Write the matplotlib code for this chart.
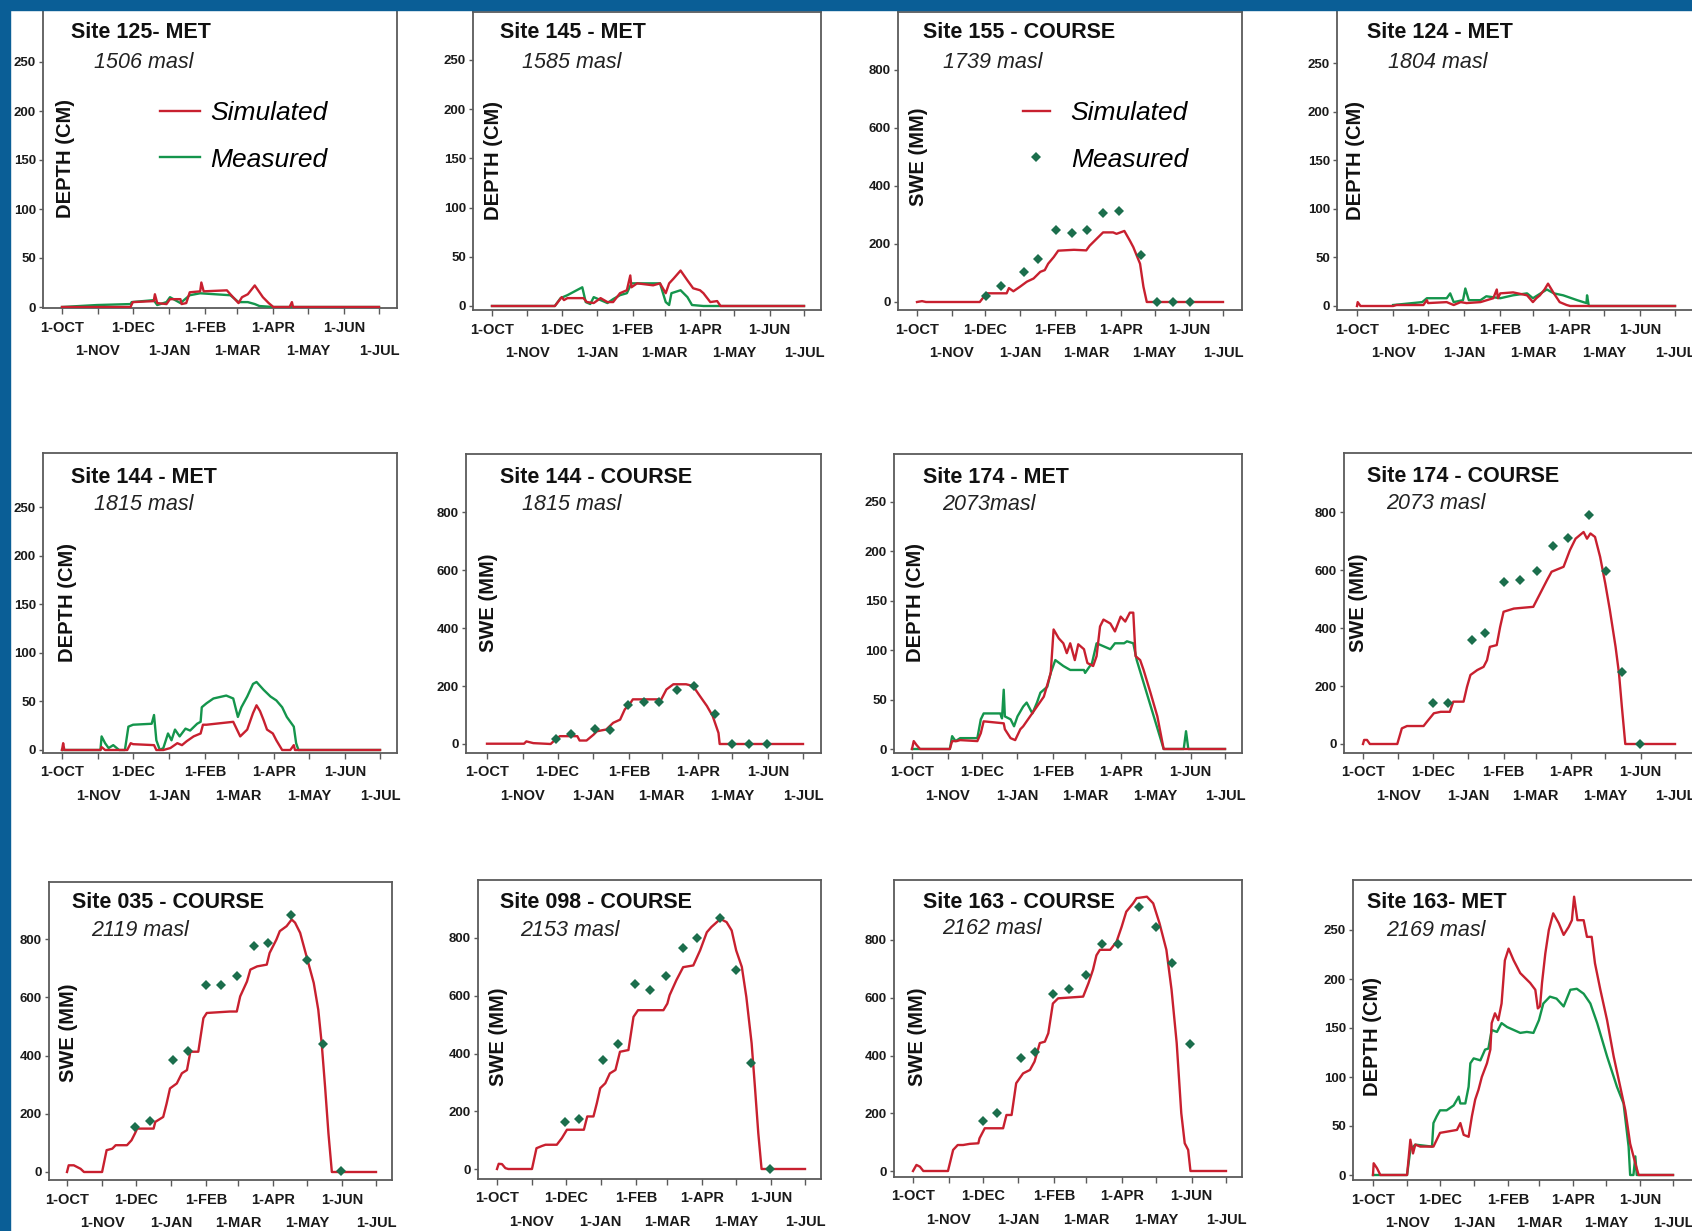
import matplotlib
matplotlib.use("Agg")
import matplotlib.pyplot as plt
from matplotlib.lines import Line2D

plt.rcParams['font.family'] = ['Liberation Sans', 'DejaVu Sans']

W, H = 1692, 1231

# first of each month, in days counted from 1 October
month_days = [0, 31, 61, 92, 123, 151, 182, 212, 243, 273]
month_names = ['1-OCT', '1-NOV', '1-DEC', '1-JAN', '1-FEB',
               '1-MAR', '1-APR', '1-MAY', '1-JUN', '1-JUL']

depth_ticks = [0, 50, 100, 150, 200, 250]
swe_ticks = [0, 200, 400, 600, 800]

# ---- Site 125 - MET (snow depth, cm)
s125_sim_t = [0, 59, 61, 79, 80, 82, 90, 93, 102, 103, 107, 110, 119, 120, 122, 142, 145,
              152, 155, 160, 166, 173, 178, 182, 196, 198, 199, 273]
s125_sim_v = [0, 0, 5, 6, 13, 4, 3, 8, 8, 3, 4, 15, 16, 25, 16, 17, 13,
              4, 10, 13, 22, 10, 4, 0, 0, 5, 0, 0]
s125_obs_t = [0, 30, 59, 60, 79, 82, 90, 93, 102, 110, 119, 145, 152, 160, 166, 170, 182, 273]
s125_obs_v = [0, 2, 3, 5, 7, 2, 5, 10, 4, 12, 14, 12, 5, 5, 3, 1, 0, 0]

# ---- Site 145 - MET
s145_sim_t = [0, 55, 57, 61, 63, 66, 80, 83, 89, 95, 101, 106, 112, 118, 121, 122, 127, 141,
              147, 152, 155, 159, 165, 171, 176, 182, 185, 191, 197, 200, 273]
s145_sim_v = [0, 0, 3, 9, 6, 8, 8, 4, 3, 8, 4, 4, 13, 16, 31, 19, 23, 21,
              23, 13, 23, 28, 36, 26, 18, 16, 13, 4, 5, 0, 0]
s145_obs_t = [0, 55, 60, 66, 79, 82, 86, 89, 95, 101, 106, 112, 118, 122, 147, 152, 155, 157,
              165, 171, 175, 185, 273]
s145_obs_v = [0, 0, 8, 11, 19, 4, 2, 9, 6, 3, 7, 11, 13, 23, 23, 4, 1, 13,
              16, 9, 1, 0, 0]

# ---- Site 155 - COURSE (SWE, mm)
s155_sim_t = [0, 4.5, 8, 56, 62, 80, 82, 86, 92, 98, 104, 110, 114, 117, 122, 126, 140, 151,
              154, 160, 166, 175, 178, 185, 190, 193, 199, 202, 205, 273]
s155_sim_v = [0, 3, 0, 0, 30, 30, 48, 37, 53, 70, 81, 104, 110, 132, 155, 177, 180, 178,
              194, 217, 240, 240, 235, 245, 211, 189, 132, 53, 0, 0]
s155_obs_t = [62, 75, 95.5, 108, 124, 138, 152, 166, 180, 200, 214, 228, 244]
s155_obs_v = [19, 56, 104, 149, 250, 237, 249, 306, 313, 163, 0, 0, 0]

# ---- Site 124 - MET
s124_sim_t = [0, 0.6, 3, 31, 34, 57, 60, 61, 77, 83, 89, 94, 106, 117, 120, 121, 123, 134,
              146, 151, 154, 157, 161, 164, 169, 174, 180, 183, 273]
s124_sim_v = [0, 4, 0, 0, 1, 1, 6, 3, 4, 1, 4, 3, 4, 8, 17, 8, 13, 14,
              11, 4, 8, 11, 17, 23, 13, 4, 1, 0, 0]
s124_obs_t = [31, 56, 60, 77, 80, 83, 91, 93, 96, 106, 111, 123, 134, 146, 151, 163, 169,
              177, 189, 197, 197.5, 199, 273]
s124_obs_v = [1, 4, 8, 8, 13, 4, 6, 18, 6, 6, 10, 8, 11, 13, 8, 17, 13,
              11, 6, 3, 11, 0, 0]

# ---- Site 144 - MET
s144m_sim_t = [0, 1, 2, 33, 34, 37, 56, 59, 61, 79, 81, 87, 93, 99, 103, 107, 113, 119, 121,
               124, 147, 153, 159, 164, 167, 170, 173, 176, 181, 184, 189, 196, 199, 200, 273]
s144m_sim_v = [0, 7, 0, 0, 3, 0, 0, 7, 6, 5, 0, 0, 2, 7, 5, 9, 14, 17, 26,
               26, 29, 14, 21, 38, 46, 40, 31, 21, 17, 10, 0, 0, 5, 0, 0]
s144m_obs_t = [0, 33, 34, 37, 40, 44, 49, 54, 57, 61, 77, 79, 81, 84, 87, 91, 94, 97, 101,
               106, 110, 116, 119, 120, 124, 130, 141, 147, 151, 154, 159, 164, 167, 173,
               179, 184, 189, 193, 199, 201, 203, 273]
s144m_obs_v = [0, 0, 14, 7, 2, 5, 0, 0, 24, 26, 27, 36, 10, 0, 2, 17, 10, 21, 14,
               22, 20, 27, 29, 44, 48, 53, 56, 53, 34, 44, 55, 68, 70, 62,
               55, 51, 44, 34, 24, 7, 0, 0]

# ---- Site 144 - COURSE
s144c_sim_t = [0, 32, 34, 40, 55, 59, 63, 78, 80, 86, 92, 95, 103, 109, 115, 119, 124, 126,
               148, 149, 155, 161, 172, 178, 184, 190, 195, 200, 201, 273]
s144c_sim_v = [1, 1, 9, 3, 0, 15, 27, 27, 12, 12, 32, 44, 50, 73, 84, 119, 142, 154,
               154, 142, 188, 206, 206, 200, 165, 131, 96, 38, 0, 0]
s144c_obs_t = [60, 73, 93, 106, 122, 136, 149, 164, 179, 197, 212, 226, 242]
s144c_obs_v = [18, 36, 52, 50, 134, 146, 145, 185, 200, 105, 0, 0, 0]

# ---- Site 174 - MET
s174m_sim_t = [0, 1.5, 4, 7, 33, 35, 39, 42, 57, 60, 62.5, 80, 81, 86, 90, 94.5, 97, 103,
               109, 115, 121, 123.5, 128, 132, 135, 138, 142, 145, 150, 153, 158, 161, 164,
               167, 173, 177, 182, 186, 190, 193, 195, 199, 202, 208, 214, 219.5, 273]
s174m_sim_v = [0, 8, 4, 0, 0, 8, 8, 9, 8, 16, 28, 26, 20, 11, 9, 20, 23, 33,
               43, 53, 77, 121, 112, 107, 97, 107, 90, 106, 101, 87, 84, 94, 124,
               131, 127, 119, 134, 129, 138, 138, 94, 90, 80, 57, 33, 0, 0]
s174m_obs_t = [0, 33, 35, 38, 42, 57, 60, 62.5, 77, 78.5, 80, 81, 86, 89, 92, 97, 100, 105,
               109, 112, 118, 121, 125, 132, 138, 150, 151, 157, 161, 167, 173, 177, 185,
               187.5, 193, 196, 219.5, 237, 239, 241, 273]
s174m_obs_v = [0, 0, 13, 8, 11, 11, 30, 36, 36, 31, 60, 33, 30, 23, 33, 43, 47, 36,
               47, 57, 63, 77, 90, 84, 80, 80, 77, 87, 107, 104, 101, 107, 107,
               109, 107, 90, 0, 0, 18, 0, 0]

# ---- Site 174 - COURSE
s174c_sim_t = [0, 1, 3.5, 6, 30, 34, 38.5, 53, 56, 62, 68, 76, 79, 88, 91, 94, 100, 105.5,
               108.5, 111, 117, 120, 123, 132, 149, 155, 161, 165, 175.5, 181, 186, 193,
               196, 199, 203, 207.5, 212, 216, 221, 224, 226.5, 229.5, 273]
s174c_sim_v = [0, 14, 14, 0, 0, 54, 62, 62, 77, 106, 111, 111, 146, 146, 197, 238, 255, 266,
               289, 335, 341, 404, 456, 467, 473, 519, 565, 594, 611, 668, 708, 731,
               708, 726, 714, 645, 553, 462, 335, 243, 129, 0, 0]
s174c_obs_t = [61, 74, 95, 107, 123, 137, 152, 166, 179, 198, 212.5, 226.5, 242]
s174c_obs_v = [142, 142, 358, 383, 559, 565, 596, 682, 712, 789, 596, 249, 0]

# ---- Site 035 - COURSE
s035_sim_t = [0, 1.5, 6, 12, 15, 31, 35, 40, 43, 53, 57, 60, 62, 76.5, 78, 85, 88, 91, 97,
              101.5, 106, 109, 116, 120.5, 123.5, 144, 150, 153, 159, 162, 168, 176.5, 179,
              185, 188, 194, 198.5, 201.5, 206, 212, 218, 222, 225, 228, 231, 234, 273]
s035_sim_v = [0, 23, 23, 11, 0, 0, 75, 80, 92, 92, 109, 132, 149, 149, 172, 189, 235, 287, 304,
              339, 350, 413, 413, 528, 546, 551, 551, 603, 654, 695, 706, 712, 752,
              798, 827, 844, 867, 856, 821, 735, 649, 557, 442, 293, 132, 0, 0]
s035_obs_t = [60, 73, 94, 107, 123, 136, 150.5, 165, 178, 198, 212, 226, 242]
s035_obs_v = [153, 176, 385, 417, 643, 641, 672, 775, 786, 882, 729, 440, 2]

# ---- Site 098 - COURSE
s098_sim_t = [0, 1.5, 4.4, 7.4, 10, 31, 35, 40, 43, 53, 57.5, 62, 77, 80, 85.5, 88.5, 91.5, 96,
              100, 105, 109, 116.5, 121, 125, 147.5, 151, 153, 159, 165, 174, 180, 186, 190,
              198, 203.5, 208, 212, 217, 221, 225.7, 228.6, 231.6, 234.5, 273]
s098_sim_v = [0, 18, 17, 3, 0, 0, 72, 80, 84, 84, 107, 136, 136, 182, 182, 228, 280, 297,
              331, 343, 406, 412, 527, 550, 550, 573, 602, 654, 699, 705, 757, 820, 838,
              866, 855, 826, 757, 700, 596, 435, 285, 124, 0, 0]
s098_obs_t = [60, 73, 94, 107, 122, 136, 150, 164.5, 177, 198, 212, 225.5, 242]
s098_obs_v = [162, 173, 377, 433, 639, 619, 667, 765, 801, 870, 690, 368, 0]

# ---- Site 163 - COURSE
s163c_sim_t = [0, 3, 6, 9, 30.5, 35, 39, 43.7, 49.5, 57, 58, 62.6, 78.6, 81.5, 86, 90, 96, 102,
               106, 110.6, 115, 118, 122, 126.6, 148.4, 153, 157, 160, 163, 172, 177.5, 182,
               186, 192, 195, 204, 209.5, 215, 221, 225.5, 230, 234, 237, 240, 242, 273]
s163c_sim_v = [0, 21, 15, 0, 0, 73, 90, 90, 94, 96, 113, 148, 148, 194, 194, 304, 338, 350,
               379, 443, 448, 477, 580, 598, 604, 650, 697, 747, 766, 766, 794, 846,
               898, 927, 945, 950, 927, 858, 766, 628, 443, 200, 96, 73, 0, 0]
s163c_obs_t = [61, 73, 94.5, 106, 122, 136, 150.5, 165, 179, 197, 211.6, 225.5, 241.6]
s163c_obs_v = [174, 200, 390, 413, 613, 629, 679, 786, 786, 916, 846, 719, 440]

# ---- Site 163 - MET
s163m_sim_t = [0, 0.6, 3.6, 6.7, 31, 34, 36.4, 38.5, 43, 55, 58, 61, 76.4, 79.5, 82.5, 87, 90,
               93, 96, 99, 103.7, 106.8, 108, 111, 114, 117, 120, 123.4, 128, 134, 143,
               147.7, 150, 152, 153.8, 156.8, 160, 164, 169, 173.5, 178, 181, 183, 186,
               191.7, 194.7, 199, 202, 206.9, 213, 219, 225, 229.6, 234, 238.7, 241.7, 273]
s163m_sim_v = [0, 12, 7, 0, 0, 36, 22, 31, 29, 29, 36, 43, 46, 53, 41, 39, 60,
               77, 87, 100, 114, 128, 155, 165, 158, 175, 219, 231, 219, 206, 196,
               189, 170, 172, 196, 226, 250, 267, 257, 245, 253, 260, 284, 260,
               260, 243, 243, 216, 189, 158, 121, 90, 66, 32, 12, 0, 0]
s163m_obs_t = [0, 31, 34, 38.5, 53.7, 55, 58, 61, 67, 73.4, 78, 79.5, 84, 87, 88.6, 91.6,
               97.7, 102, 105, 108, 112.8, 117, 122, 128, 134, 140, 146, 151, 155, 161, 167,
               173.5, 179.6, 185.5, 191.7, 197.8, 204, 213, 222, 228, 232.6, 234, 237,
               238.7, 240, 273]
s163m_obs_v = [0, 0, 26, 31, 29, 53, 60, 66, 66, 71, 80, 73, 73, 90, 114, 119,
               117, 128, 129, 148, 146, 155, 151, 148, 145, 146, 145, 158, 175, 182, 180,
               172, 189, 190, 185, 175, 155, 121, 90, 73, 29, 0, 0,
               19, 0, 0]

# title, elevation label, kind, simulated, measured
panels = [
    ("Site 125- MET", "1506 masl", "MET", (s125_sim_t, s125_sim_v), (s125_obs_t, s125_obs_v)),
    ("Site 145 - MET", "1585 masl", "MET", (s145_sim_t, s145_sim_v), (s145_obs_t, s145_obs_v)),
    ("Site 155 - COURSE", "1739 masl", "COURSE", (s155_sim_t, s155_sim_v), (s155_obs_t, s155_obs_v)),
    ("Site 124 - MET", "1804 masl", "MET", (s124_sim_t, s124_sim_v), (s124_obs_t, s124_obs_v)),
    ("Site 144 - MET", "1815 masl", "MET", (s144m_sim_t, s144m_sim_v), (s144m_obs_t, s144m_obs_v)),
    ("Site 144 - COURSE", "1815 masl", "COURSE", (s144c_sim_t, s144c_sim_v), (s144c_obs_t, s144c_obs_v)),
    ("Site 174 - MET", "2073masl", "MET", (s174m_sim_t, s174m_sim_v), (s174m_obs_t, s174m_obs_v)),
    ("Site 174 - COURSE", "2073 masl", "COURSE", (s174c_sim_t, s174c_sim_v), (s174c_obs_t, s174c_obs_v)),
    ("Site 035 - COURSE", "2119 masl", "COURSE", (s035_sim_t, s035_sim_v), (s035_obs_t, s035_obs_v)),
    ("Site 098 - COURSE", "2153 masl", "COURSE", (s098_sim_t, s098_sim_v), (s098_obs_t, s098_obs_v)),
    ("Site 163 - COURSE", "2162 masl", "COURSE", (s163c_sim_t, s163c_sim_v), (s163c_obs_t, s163c_obs_v)),
    ("Site 163- MET", "2169 masl", "MET", (s163m_sim_t, s163m_sim_v), (s163m_obs_t, s163m_obs_v)),
]

# panel frames in pixels: box (left, top, right, bottom), x of 1-OCT / 1-JUL,
# y of zero / y of a reference value, and where the labels sit
layout = [
    dict(box=(43, 10, 397, 308), xpx=(62, 379), ypx=(307, 62, 250), title=(71, 33), masl=(94, 62), ylab=(65, 158)),
    dict(box=(473, 12, 821, 310), xpx=(492, 804), ypx=(306, 109, 200), title=(500, 33), masl=(522, 62), ylab=(493, 160)),
    dict(box=(898, 12, 1242, 310), xpx=(917, 1223), ypx=(302, 70, 800), title=(923, 33), masl=(943, 62), ylab=(918, 157)),
    dict(box=(1337, 10, 1700, 310), xpx=(1357, 1675), ypx=(306, 63, 250), title=(1367, 33), masl=(1388, 62), ylab=(1355, 160)),
    dict(box=(43, 453, 397, 753), xpx=(62, 380), ypx=(750, 507, 250), title=(71, 478), masl=(94, 505), ylab=(67, 602)),
    dict(box=(466, 454, 821, 753), xpx=(487, 803), ypx=(744, 512, 800), title=(500, 478), masl=(522, 505), ylab=(488, 603)),
    dict(box=(894, 454, 1242, 753), xpx=(912, 1225), ypx=(749, 502, 250), title=(923, 478), masl=(942, 505), ylab=(915, 602)),
    dict(box=(1344, 453, 1700, 753), xpx=(1363, 1675), ypx=(744, 512, 800), title=(1367, 476), masl=(1386, 503), ylab=(1358, 603)),
    dict(box=(49, 882, 392, 1180), xpx=(67, 376), ypx=(1172, 939, 800), title=(72, 902), masl=(91, 930), ylab=(68, 1033)),
    dict(box=(478, 880, 821, 1179), xpx=(497, 805), ypx=(1169, 938, 800), title=(500, 902), masl=(520, 930), ylab=(498, 1037)),
    dict(box=(894, 880, 1242, 1177), xpx=(913, 1226), ypx=(1171, 940, 800), title=(923, 902), masl=(942, 929), ylab=(917, 1037)),
    dict(box=(1353, 880, 1700, 1180), xpx=(1373, 1673), ypx=(1175, 930, 250), title=(1367, 902), masl=(1386, 930), ylab=(1372, 1037)),
]

RED = '#c8202f'
GREEN = '#14954c'
DIAMOND = '#1b6e4c'
FRAME = '#5a5a5a'
BLUE = '#0a5e96'

fig = plt.figure(figsize=(W / 100, H / 100), dpi=100, facecolor='white')

# blue slide border along the top and left edges
fig.patches.append(plt.Rectangle((0, 1 - 10 / H), 1, 10 / H, transform=fig.transFigure,
                                 color=BLUE, zorder=0))
fig.patches.append(plt.Rectangle((0, 0), 10 / W, 1, transform=fig.transFigure,
                                 color=BLUE, zorder=0))


def fx(x):
    return x / W


def fy(y):
    return 1 - y / H


for (title, masl, kind, sim, obs), lay in zip(panels, layout):
    l, t, r, b = lay['box']
    ax = fig.add_axes([fx(l), fy(b), (r - l) / W, (b - t) / H])
    x0, x1 = lay['xpx']
    y0, yv, v = lay['ypx']
    sx = (x1 - x0) / 273
    sy = (y0 - yv) / v
    ax.set_xlim(-(x0 - l) / sx, 273 + (r - x1) / sx)
    ax.set_ylim(-(b - y0) / sy, (y0 - t) / sy)

    if kind == "MET":
        ax.plot(obs[0], obs[1], color=GREEN, lw=1.7, zorder=3)
        ax.plot(sim[0], sim[1], color=RED, lw=1.7, zorder=4)
        ax.set_yticks(depth_ticks)
        ylabel = "DEPTH (CM)"
    else:
        ax.plot(sim[0], sim[1], color=RED, lw=1.7, zorder=3)
        ax.plot(obs[0], obs[1], 'D', color=DIAMOND, ms=5.5, mew=0, zorder=4)
        ax.set_yticks(swe_ticks)
        ylabel = "SWE (MM)"

    # odd months on the upper row, even months on the lower row
    ax.set_xticks(month_days[0::2])
    ax.set_xticklabels(month_names[0::2])
    ax.set_xticks(month_days[1::2], minor=True)
    ax.set_xticklabels(month_names[1::2], minor=True)
    ax.tick_params(axis='x', which='major', length=4, width=1, color=FRAME, pad=5,
                   labelsize=10.5)
    ax.tick_params(axis='x', which='minor', length=4, width=1, color=FRAME, pad=22,
                   labelsize=10.5)
    ax.tick_params(axis='y', length=3, width=1, color=FRAME, pad=2, labelsize=9.5)
    for lab in ax.get_xticklabels(which='both') + ax.get_yticklabels():
        lab.set_fontweight('bold')
        lab.set_color('#1a1a1a')
    for sp in ax.spines.values():
        sp.set_color(FRAME)
        sp.set_linewidth(1.3)

    fig.text(fx(lay['title'][0]), fy(lay['title'][1]), title, fontsize=15.5,
             fontweight='bold', ha='left', va='center', color='#111111')
    fig.text(fx(lay['masl'][0]), fy(lay['masl'][1]), masl, fontsize=15.5,
             style='italic', ha='left', va='center', color='#222222')
    fig.text(fx(lay['ylab'][0]), fy(lay['ylab'][1]), ylabel, fontsize=14.5,
             fontweight='bold', rotation=90, ha='center', va='center', color='#111111')

    if title == "Site 125- MET":
        handles = [Line2D([], [], color=RED, lw=1.7), Line2D([], [], color=GREEN, lw=1.7)]
        fig.legend(handles, ["Simulated", "Measured"], loc='upper left',
                   bbox_to_anchor=(fx(147), fy(88)), frameon=False, borderpad=0,
                   handlelength=1.5, handletextpad=0.4, labelspacing=0.85,
                   prop=dict(size=19, style='italic'))
    if title == "Site 155 - COURSE":
        handles = [Line2D([], [], color=RED, lw=1.7),
                   Line2D([], [], ls='none', marker='D', color=DIAMOND, ms=5, mew=0)]
        fig.legend(handles, ["Simulated", "Measured"], loc='upper left',
                   bbox_to_anchor=(fx(1010), fy(88)), frameon=False, borderpad=0,
                   handlelength=1.0, handletextpad=0.8, labelspacing=0.85,
                   prop=dict(size=19, style='italic'))

fig.savefig("out.png", dpi=100, facecolor='white')
